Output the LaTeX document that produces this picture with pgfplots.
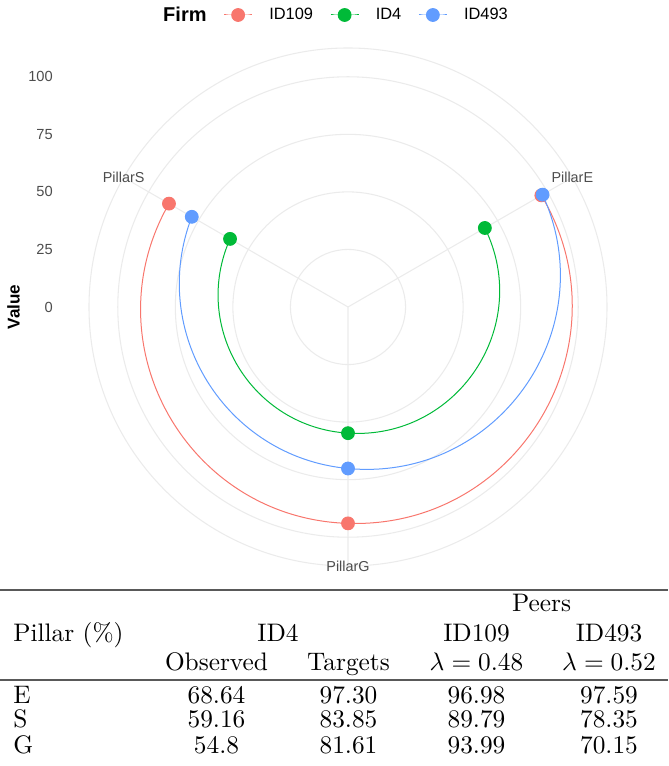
\documentclass[border=0pt]{standalone}
\usepackage{fontspec}
\newfontfamily\arial{Liberation Sans}
\usepackage{pgfplots}
\pgfplotsset{compat=1.18}
\usepackage{pgfplotstable}
\usepgfplotslibrary{polar}
\usetikzlibrary{hobby}
\definecolor{cR}{HTML}{F8766D}
\definecolor{cG}{HTML}{00BA38}
\definecolor{cB}{HTML}{619CFF}
\definecolor{gridc}{HTML}{EBEBEB}
\definecolor{txt}{HTML}{4D4D4D}
\newcommand\T[1]{\scalebox{1.9}{\fontsize{10}{12}\selectfont #1}}

% theta: PillarE=30, PillarG=270, PillarS=150 (degrees, counter-clockwise from east)
\pgfplotstableread{
theta r
30  96.98
270 93.99
150 89.79
}\tblA
\pgfplotstableread{
theta r
30  68.64
270 54.8
150 59.16
}\tblB
\pgfplotstableread{
theta r
30  97.59
270 70.15
150 78.35
}\tblC

\begin{document}
\begin{tikzpicture}
\useasboundingbox (0,0) rectangle (501pt,574.5pt);

% left radial scale and its title
\begin{axis}[
  at={(39.75pt,344.25pt)}, anchor=south west,
  scale only axis, width=20pt, height=194.25pt,
  xmin=0, xmax=1, ymin=0, ymax=112.5,
  hide x axis,
  axis y line*=left,
  y axis line style={draw=none},
  ytick={0,25,50,75,100},
  yticklabels={0,25,50,75,100},
  major tick length=0pt,
  /pgf/number format/assume math mode=true,
  yticklabel style={font=\arial\fontsize{11}{12}\selectfont, text=txt, anchor=east, inner sep=0pt},
  ylabel={\textbf{Value}},
  ylabel style={font=\arial\fontsize{12.8}{14}\selectfont, at={(axis description cs:-1.48,0)}, anchor=center},
]
\end{axis}

\begin{polaraxis}[
  at={(261pt,344.25pt)}, anchor=center,
  scale only axis, width=388.5pt, height=388.5pt,
  xmin=0, xmax=360, ymin=0, ymax=112.5,
  xtick={30,150,270},
  xticklabels={PillarE,PillarS,PillarG},
  xticklabel style={font=\arial\fontsize{10.8}{12}\selectfont, text=txt, anchor=center, inner sep=0pt},
  ytick={25,50,75,100},
  yticklabels={},
  yticklabel style={opacity=0, text opacity=0},
  grid=major,
  major grid style={draw=gridc, line width=0.8pt},
  axis line style={draw=gridc, line width=0.8pt},
  y axis line style={draw=none},
  major tick length=0pt,
  clip=false,
  legend columns=-1,
  legend style={at={(0.4624,1.0637)}, anchor=center, draw=none, fill=none,
    font=\arial\fontsize{12.3}{15}\selectfont,
    /tikz/every odd column/.append style={column sep=10.5pt},
    /tikz/every even column/.append style={column sep=10.8pt}},
  legend image code/.code={\draw[mark repeat=2, mark phase=2, #1] plot coordinates {(0pt,0pt) (10.5pt,0pt) (21pt,0pt)};},
]
\addlegendimage{empty legend}
\addlegendentry{\fontsize{15}{17}\selectfont\bfseries Firm}
\addplot[cR, line width=0.75pt, hobby, mark=*, mark size=4.8pt, mark options={solid}] table[x=theta,y=r]{\tblA};
\addlegendentry{ID109}
\addplot[cG, line width=0.75pt, hobby, mark=*, mark size=4.8pt, mark options={solid}] table[x=theta,y=r]{\tblB};
\addlegendentry{ID4}
\addplot[cB, line width=0.75pt, hobby, mark=*, mark size=4.8pt, mark options={solid}] table[x=theta,y=r]{\tblC};
\addlegendentry{ID493}
\end{polaraxis}

% table below the chart
\begin{scope}[x=0.75pt,y=0.75pt]
\draw[black!65, line width=1.5pt] (0,176) -- (668,176);
\draw[black!65, line width=1.1pt] (0,86) -- (668,86);
\node[anchor=base, inner sep=0pt] at (541.5,154) {\T{Peers}};
\node[anchor=base west, inner sep=0pt] at (13,124) {\T{Pillar (\%)}};
\node[anchor=base, inner sep=0pt] at (278,124) {\T{ID4}};
\node[anchor=base, inner sep=0pt] at (476.5,124) {\T{ID109}};
\node[anchor=base, inner sep=0pt] at (609,124) {\T{ID493}};
\node[anchor=base, inner sep=0pt] at (216.5,95) {\T{Observed}};
\node[anchor=base, inner sep=0pt] at (348.5,95) {\T{Targets}};
\node[anchor=base, inner sep=0pt] at (476.5,95) {\T{$\lambda = 0.48$}};
\node[anchor=base, inner sep=0pt] at (609,95) {\T{$\lambda = 0.52$}};
\node[anchor=base west, inner sep=0pt] at (13,62) {\T{E}};
\node[anchor=base west, inner sep=0pt] at (13,38) {\T{S}};
\node[anchor=base west, inner sep=0pt] at (13,13) {\T{G}};
\node[anchor=base, inner sep=0pt] at (216.5,62) {\T{68.64}};
\node[anchor=base, inner sep=0pt] at (348.5,62) {\T{97.30}};
\node[anchor=base, inner sep=0pt] at (476.5,62) {\T{96.98}};
\node[anchor=base, inner sep=0pt] at (609,62) {\T{97.59}};
\node[anchor=base, inner sep=0pt] at (216.5,38) {\T{59.16}};
\node[anchor=base, inner sep=0pt] at (348.5,38) {\T{83.85}};
\node[anchor=base, inner sep=0pt] at (476.5,38) {\T{89.79}};
\node[anchor=base, inner sep=0pt] at (609,38) {\T{78.35}};
\node[anchor=base, inner sep=0pt] at (216.5,13) {\T{54.8}};
\node[anchor=base, inner sep=0pt] at (348.5,13) {\T{81.61}};
\node[anchor=base, inner sep=0pt] at (476.5,13) {\T{93.99}};
\node[anchor=base, inner sep=0pt] at (609,13) {\T{70.15}};
\end{scope}
\end{tikzpicture}
\end{document}
